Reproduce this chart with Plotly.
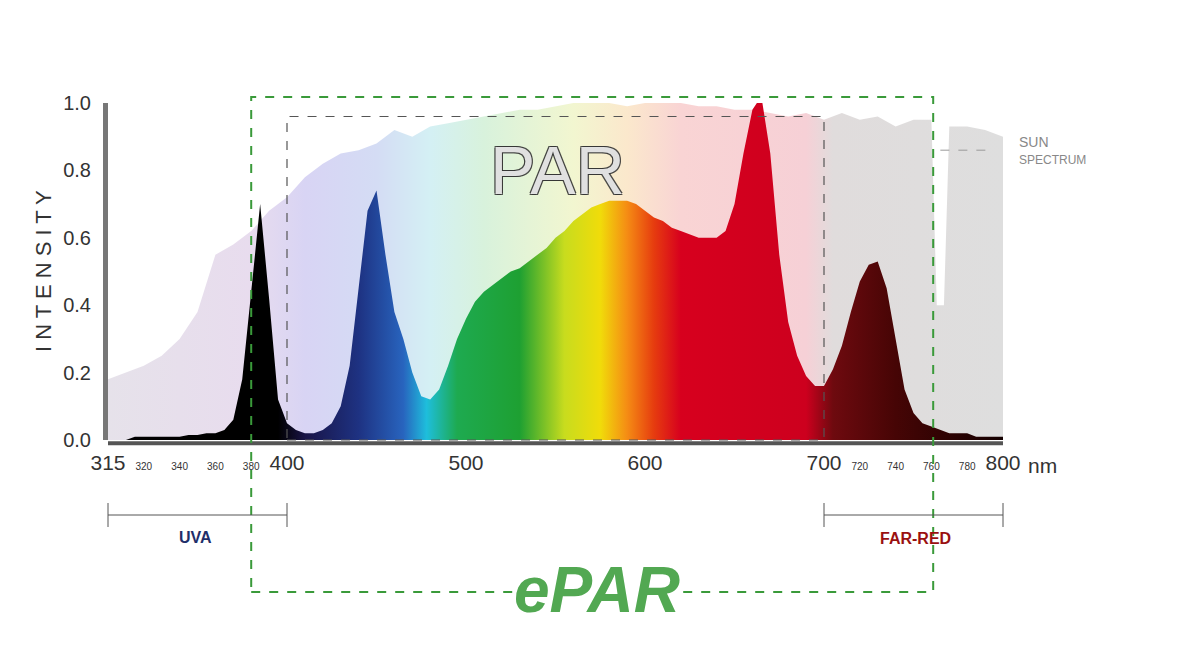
import plotly.graph_objects as go

# LED spectrum (nm, relative intensity)
led_nm = list(range(300, 805, 5))
led_val = [0.00, 0.00, 0.00, 0.01, 0.01, 0.01, 0.01, 0.01, 0.01, 0.015,
           0.015, 0.02, 0.02, 0.03, 0.06, 0.18, 0.45, 0.70, 0.42, 0.12,
           0.05, 0.03, 0.02, 0.02, 0.03, 0.05, 0.10, 0.22, 0.45, 0.68,
           0.74, 0.55, 0.38, 0.30, 0.20, 0.13, 0.12, 0.15, 0.22, 0.30,
           0.36, 0.41, 0.44, 0.46, 0.48, 0.50, 0.51, 0.53, 0.55, 0.57,
           0.60, 0.62, 0.65, 0.67, 0.69, 0.70, 0.71, 0.71, 0.71, 0.70,
           0.68, 0.66, 0.65, 0.63, 0.62, 0.61, 0.60, 0.60, 0.60, 0.62,
           0.70, 0.85, 0.98, 1.02, 0.85, 0.55, 0.35, 0.25, 0.19, 0.16,
           0.16, 0.21, 0.28, 0.38, 0.47, 0.52, 0.53, 0.45, 0.30, 0.15,
           0.08, 0.05, 0.04, 0.03, 0.02, 0.02, 0.02, 0.01, 0.01, 0.01, 0.01]

# sun spectrum
sun_nm = [300, 310, 320, 330, 340, 350, 360, 370, 380, 390, 400, 410, 420, 430,
          440, 450, 460, 470, 480, 490, 500, 510, 520, 530, 540, 550, 560, 570,
          580, 590, 600, 610, 620, 630, 640, 650, 660, 670, 680, 690, 700, 710,
          720, 730, 740, 750, 760, 763, 767, 770, 780, 790, 800]
sun_val = [0.18, 0.20, 0.22, 0.25, 0.30, 0.38, 0.55, 0.58, 0.62, 0.68, 0.72,
           0.78, 0.82, 0.85, 0.86, 0.88, 0.92, 0.90, 0.93, 0.94, 0.95, 0.96,
           0.97, 0.98, 0.98, 0.99, 1.00, 1.00, 1.00, 0.99, 1.00, 1.00, 1.00,
           0.99, 0.99, 0.98, 0.98, 0.97, 0.96, 0.97, 0.95, 0.97, 0.95, 0.96,
           0.93, 0.95, 0.95, 0.40, 0.40, 0.93, 0.93, 0.92, 0.90]

major_ticks = [300, 400, 500, 600, 700, 800]
major_text = ['315', '400', '500', '600', '700', '800']
minor_ticks = [320, 340, 360, 380, 720, 740, 760, 780]
y_ticks = [0, 0.2, 0.4, 0.6, 0.8, 1.0]

# wavelength -> colour stops
led_stops = [(300, '#000000'), (395, '#000000'), (410, '#191446'),
             (440, '#1e3282'), (465, '#2864be'), (478, '#1ebedc'),
             (495, '#1eaa50'), (530, '#1ea032'), (555, '#c8dc1e'),
             (575, '#f0dc0a'), (590, '#f58c14'), (605, '#e63c0f'),
             (620, '#d7001e'), (690, '#cd001e'), (705, '#6e0a0f'),
             (740, '#460505'), (800, '#140000')]
sun_stops = [(300, '#e6e2ea'), (380, '#e8dcee'), (410, '#d8d4f4'),
             (450, '#d4dcf4'), (480, '#d4f0f4'), (510, '#d8f2dc'),
             (560, '#f2f6d0'), (590, '#fbe8cc'), (620, '#f9d4d4'),
             (690, '#f6d0d6'), (705, '#e0dcdc'), (800, '#dedede')]


def scale(stops):
    lo, hi = stops[0][0], stops[-1][0]
    return [[(nm - lo) / (hi - lo), c] for nm, c in stops]


fig = go.Figure()
fig.add_trace(go.Scatter(
    x=sun_nm, y=sun_val, fill='tozeroy', mode='lines', line=dict(width=0),
    fillgradient=dict(type='horizontal', colorscale=scale(sun_stops)),
    hoverinfo='skip', showlegend=False))
fig.add_trace(go.Scatter(
    x=led_nm, y=led_val, fill='tozeroy', mode='lines', line=dict(width=0),
    fillgradient=dict(type='horizontal', colorscale=scale(led_stops)),
    hoverinfo='skip', showlegend=False))

ticks = major_ticks + minor_ticks
texts = major_text + ['<span style="font-size:10px">{}</span>'.format(t) for t in minor_ticks]

fig.update_layout(
    width=1200, height=668,
    margin=dict(l=100, r=205, t=95, b=236),
    paper_bgcolor='white', plot_bgcolor='white',
    font=dict(family='Liberation Sans Narrow, Liberation Sans', color='#333'),
    xaxis=dict(range=[300, 800], tickvals=ticks, ticktext=texts, showgrid=False,
               zeroline=False, ticks='', tickfont=dict(size=21), ticklabelstandoff=8),
    yaxis=dict(range=[0, 1], tickvals=y_ticks, ticktext=['0.0', '0.2', '0.4', '0.6', '0.8', '1.0'],
               showgrid=False, zeroline=False, ticks='', tickfont=dict(size=20),
               showline=True, linewidth=5, linecolor='#777', ticklabelstandoff=8),
)


def xp(nm):
    return (nm - 300) / 500.0


def yp(px):
    return (440 - px) / 337.0


shapes = [
    dict(type='line', xref='paper', yref='paper', x0=0, x1=1, y0=-0.01, y1=-0.01,
         line=dict(color='#555', width=4)),
    dict(type='rect', xref='paper', yref='paper', x0=xp(380), x1=xp(761),
         y0=yp(592), y1=yp(97), line=dict(color='#3a9a3a', width=2, dash='dash')),
    dict(type='rect', xref='paper', yref='paper', x0=xp(400), x1=xp(700),
         y0=0, y1=0.96, line=dict(color='#555', width=1.2, dash='dash')),
    dict(type='line', xref='paper', yref='paper', x0=xp(300), x1=xp(400),
         y0=yp(515), y1=yp(515), line=dict(color='#555', width=1)),
    dict(type='line', xref='paper', yref='paper', x0=xp(700), x1=xp(800),
         y0=yp(515), y1=yp(515), line=dict(color='#555', width=1)),
    dict(type='line', xref='paper', yref='paper', x0=xp(765), x1=xp(793),
         y0=0.86, y1=0.86, line=dict(color='#999', width=1, dash='dash')),
]
for nm in [300, 400, 700, 800]:
    shapes.append(dict(type='line', xref='paper', yref='paper', x0=xp(nm), x1=xp(nm),
                       y0=yp(503), y1=yp(527), line=dict(color='#555', width=1)))
fig.update_layout(shapes=shapes)


def label(x, y, text, size, color, xanchor='center', **kw):
    return dict(x=x, y=y, xref='paper', yref='paper', text=text, showarrow=False,
                xanchor=xanchor, yanchor='middle',
                font=dict(size=size, color=color, family=kw.pop('family', None),
                          shadow=kw.pop('shadow', None)), **kw)


ann = [
    label(-0.072, 0.5, 'I N T E N S I T Y', 22, '#333', textangle=-90),
    label(xp(813), -0.075, 'nm', 21, '#333', xanchor='left'),
    label(xp(349), yp(537), '<b>UVA</b>', 16, '#1f2f6a', family='Liberation Sans'),
    label(xp(751), yp(538), '<b>FAR-RED</b>', 16, '#9a1010', family='Liberation Sans'),
    label(xp(573), yp(590), '<b><i>ePAR</i></b>', 64, '#52a852',
          family='Liberation Sans', bgcolor='white', borderpad=0),
    label(xp(551), yp(170), 'PAR', 68, 'rgba(255,255,255,0.85)', family='Liberation Sans',
          shadow='1px 1px 0 #333, -1px -1px 0 #333, 1px -1px 0 #333, -1px 1px 0 #333'),
    label(xp(808), yp(142), 'SUN', 14, '#888', xanchor='left'),
    label(xp(808), yp(160), 'SPECTRUM', 12, '#888', xanchor='left'),
]
fig.update_layout(annotations=ann)

fig.write_html('out.html')
